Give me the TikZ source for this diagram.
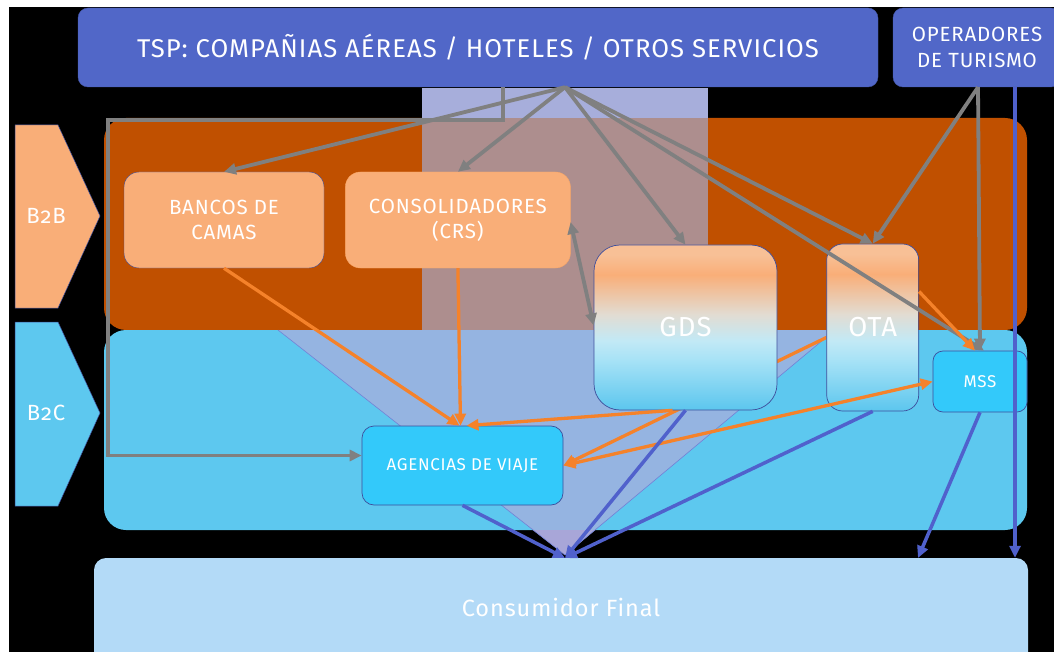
\documentclass[tikz,border=0pt]{standalone}
\usepackage{fontspec}
\setmainfont{Fira Sans}[Numbers=OldStyle,LetterSpace=4]
\usetikzlibrary{arrows.meta,positioning,backgrounds}

\definecolor{tspblue}{RGB}{81,103,200}
\definecolor{btobfill}{RGB}{192,80,0}
\definecolor{btocfill}{RGB}{93,200,239}
\definecolor{peach}{RGB}{249,174,120}
\definecolor{cyanfill}{RGB}{51,201,250}
\definecolor{consfill}{RGB}{179,218,247}
\definecolor{lavtop}{RGB}{167,174,219}
\definecolor{lavmid}{RGB}{173,142,142}
\definecolor{lavlow}{RGB}{149,180,225}
\definecolor{lavbot}{RGB}{168,166,216}
\definecolor{edgeblue}{RGB}{62,78,156}
\definecolor{arrgray}{RGB}{128,128,128}
\definecolor{arrorange}{RGB}{245,130,42}
\definecolor{arrblue}{RGB}{80,97,204}
\definecolor{gradblue}{RGB}{92,198,238}
\definecolor{gradsky}{RGB}{166,226,246}
\definecolor{gradpale}{RGB}{194,233,246}
\definecolor{gradbeige}{RGB}{226,220,210}
\definecolor{gradcrest}{RGB}{248,192,150}

\pgfdeclareverticalshading{gdsota}{100bp}{color(0bp)=(gradblue); color(25bp)=(gradblue);
  color(40bp)=(gradsky); color(46bp)=(gradpale); color(54bp)=(gradbeige);
  color(66bp)=(peach); color(72bp)=(gradcrest); color(100bp)=(gradcrest)}

\begin{document}
\begin{tikzpicture}[x=1pt,y=-1pt,
    every node/.style={text=white,align=center,inner sep=0pt},
    topbox/.style={fill=tspblue,draw=tspblue!85!black,rounded corners=10pt},
    peachbox/.style={fill=peach,rounded corners=15pt,minimum height=96pt,font=\fontsize{20.5}{25}\selectfont},
    gradbox/.style={shading=gdsota,draw=edgeblue,line width=0.7pt,font=\fontsize{27.5}{30}\selectfont},
    cyanbox/.style={fill=cyanfill,draw=edgeblue,line width=0.7pt,rounded corners=12pt},
    tag/.style={font=\fontsize{22}{24}\selectfont},
    grayarrow/.style={color=arrgray,line width=3.8pt,-{Triangle[length=12pt,width=11pt]}},
    orangearrow/.style={color=arrorange,line width=3.3pt,-{Triangle[length=12pt,width=11pt]}},
    bluearrow/.style={color=arrblue,line width=3.5pt,-{Triangle[length=12pt,width=11pt]}}]

  \useasboundingbox (0,0) rectangle (1054,652);

  % boxes
  \node[topbox,minimum width=800pt,minimum height=79pt,font=\fontsize{25.7}{28}\selectfont] (tsp) at (478,47.5)
    {TSP: COMPAÑIAS AÉREAS / HOTELES / OTROS SERVICIOS};
  \node[topbox,minimum width=168pt,minimum height=79pt,font=\fontsize{20.5}{26}\selectfont] (oper) at (977,47.5)
    {OPERADORES\\DE TURISMO};
  \node[peachbox,draw=edgeblue,minimum width=200pt] (bancos) at (224,220) {BANCOS DE\\CAMAS};
  \node[peachbox,draw=peach!85!orange,minimum width=225pt] (consol) [right=21pt of bancos] {CONSOLIDADORES\\(CRS)};
  \node[gradbox,rounded corners=26pt,minimum width=183pt,minimum height=165pt] (gds) at (685.5,327.5) {GDS};
  \node[gradbox,rounded corners=16pt,minimum width=92pt,minimum height=167pt] (ota) [right=49pt of gds] {OTA};
  \node[cyanbox,rounded corners=10pt,minimum width=94pt,minimum height=61pt,font=\fontsize{17}{20}\selectfont] (mss) at (980,381.5) {MSS};
  \node[cyanbox,minimum width=201pt,minimum height=79pt,font=\fontsize{17}{20}\selectfont] (agencias) at (462.5,465.5) {AGENCIAS DE VIAJE};
  \node[fill=consfill,rounded corners=12pt,minimum width=934pt,minimum height=110pt,text depth=12pt,
    font=\fontsize{23.5}{26}\selectfont] (consumer) at (561,613) {Consumidor Final};

  % side tags
  \filldraw[fill=peach,draw=edgeblue,line width=0.5pt] (15,125) -- (58,125) -- (100,216) -- (58,308) -- (15,308) -- cycle;
  \node[tag] (btob) at (46,216) {B2B};
  \filldraw[fill=btocfill,draw=edgeblue,line width=0.5pt] (15,322) -- (58,322) -- (100,413) -- (58,506) -- (15,506) -- cycle;
  \node[tag] (btoc) at (46,413) {B2C};

  \coordinate (tspout) at ([xshift=87pt]tsp.south);
  \coordinate (tspelbow) at ([xshift=25pt]tsp.south);
  \coordinate (elbowcorner) at (108,120);
  \coordinate (operleft) at ([xshift=1pt]oper.south);
  \coordinate (operright) at ([xshift=38pt]oper.south);
  \coordinate (cfin) at (565,558);
  \coordinate (cfright) at (918,558);

  \begin{pgfonlayer}{background}
    \fill[white] (0,0) rectangle (1054,652);
    \fill[black] (9,7) rectangle (1060,660);
    \fill[btobfill,rounded corners=22pt] (104,118) rectangle (1027,330);
    \fill[btocfill,rounded corners=22pt] (104,330) rectangle (1027,530);
    % funnel
    \fill[lavtop] (422,88) rectangle (708,118);
    \fill[lavmid] (422,118) rectangle (708,330);
    \fill[lavlow] (278,330) -- (835,330) -- (565,555) -- cycle;
    \begin{scope}
      \clip (0,530) rectangle (1054,558);
      \fill[lavbot] (278,330) -- (835,330) -- (565,555) -- cycle;
    \end{scope}
    \draw[arrblue!80,line width=0.6pt] (278,330) -- (565,555) -- (835,330);
    \path[orangearrow] ([yshift=-10pt]ota.west) edge (agencias.east);
  \end{pgfonlayer}

  \path[grayarrow]
    (tspout) edge (bancos.north)
             edge (consol.north)
             edge (gds.north)
             edge (ota.north)
             edge ([xshift=4pt]mss.north)
    (operleft) edge (ota.north)
               edge (mss.north)
    ([yshift=-2pt]consol.east) edge[{Triangle[length=12pt,width=11pt]}-{Triangle[length=12pt,width=11pt]}] ([yshift=2pt]gds.west);
  \draw[grayarrow] (tspelbow) |- (elbowcorner) |- ([yshift=10pt]agencias.west);

  \path[orangearrow]
    (bancos.south) edge ([xshift=-3pt]agencias.north)
    (consol.south) edge ([xshift=-2pt]agencias.north)
    ([xshift=-13pt]gds.south) edge ([xshift=4pt]agencias.north)
    ([yshift=36pt]ota.east) edge ([xshift=-5pt]mss.north)
    (agencias.east) edge[{Triangle[length=12pt,width=11pt]}-{Triangle[length=12pt,width=11pt]}] (mss.west);

  \path[bluearrow]
    (agencias.south) edge (cfin)
    (gds.south) edge (cfin)
    (ota.south) edge (cfin)
    (mss.south) edge (cfright)
    (operright) edge[line width=3.3pt] (operright |- consumer.north);
\end{tikzpicture}
\end{document}
